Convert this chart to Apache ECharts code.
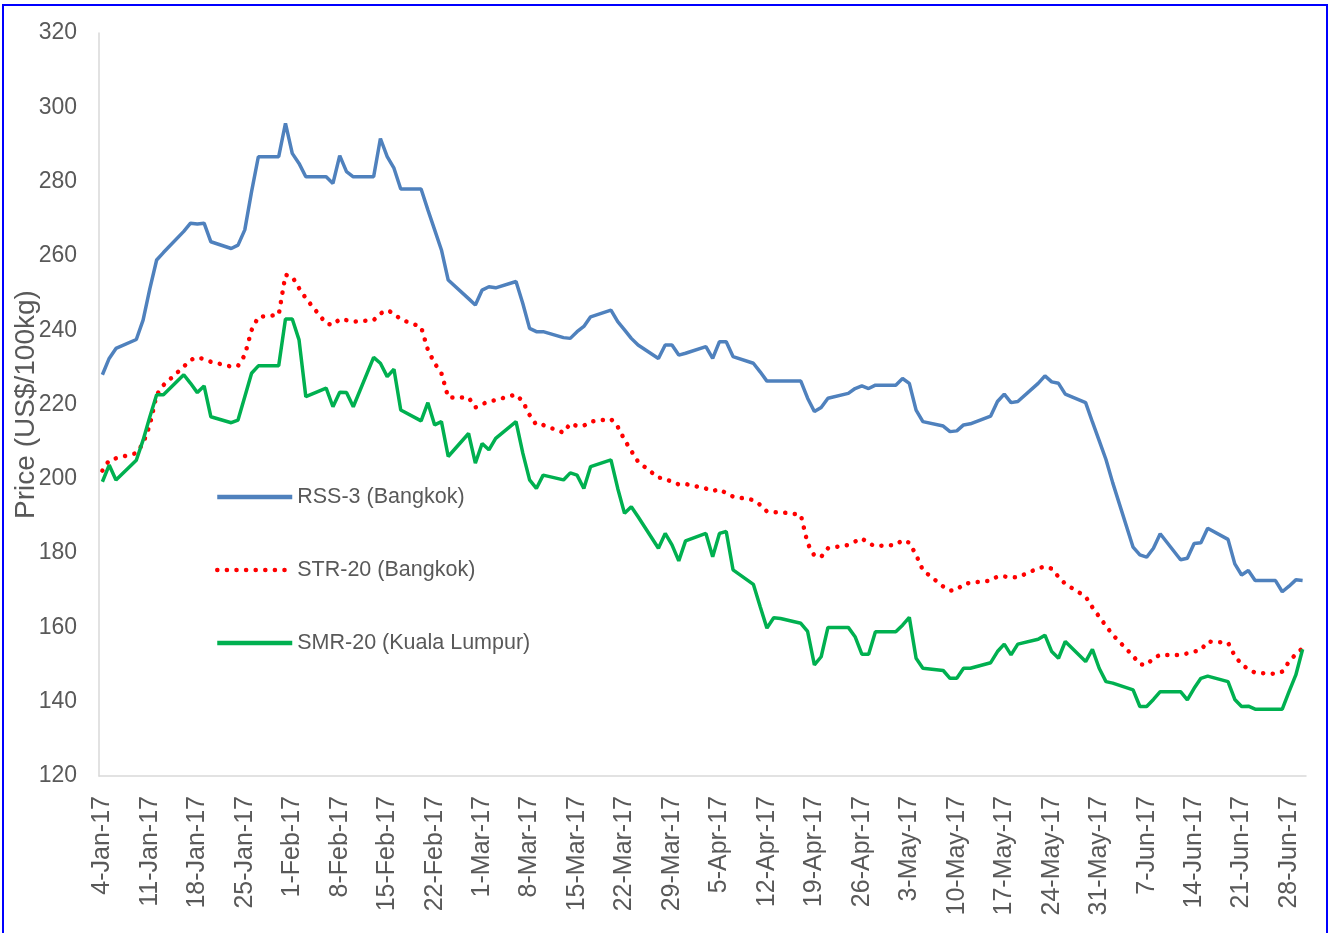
<!DOCTYPE html>
<html>
<head>
<meta charset="utf-8">
<script src="https://cdn.jsdelivr.net/npm/echarts@6/dist/echarts.min.js"></script>
<style>
  html, body { margin: 0; padding: 0; background: #fff; }
  #chart { width: 1333px; height: 933px; }
</style>
</head>
<body>
<div id="chart"></div>
<script>
// calendar span of the x axis (one slot per day, label every 7 days)
const startDate = new Date(2017, 0, 4);
const endDate = new Date(2017, 5, 30);
const monthNames = ['Jan', 'Feb', 'Mar', 'Apr', 'May', 'Jun', 'Jul', 'Aug', 'Sep', 'Oct', 'Nov', 'Dec'];

// prices in US$/100kg, one value per trading day (Mon-Fri), 4-Jan-17 .. 30-Jun-17
const rss3 = [
  228.0, 232.4, 235.1,
  237.5, 242.7, 251.2, 258.9, 260.9,
  266.6, 268.8, 268.6, 268.8, 263.8,
  262.0, 262.9, 267.0, 277.3, 286.7,
  286.7, 295.7, 287.6, 284.9, 281.3,
  281.3, 279.5, 287.0, 282.7, 281.3,
  281.3, 291.6, 286.7, 283.6, 278.0,
  278.0, 272.4, 267.0, 261.6, 253.5,
  248.5, 246.8, 250.8, 251.7, 251.4,
  253.1, 247.2, 240.5, 239.6, 239.6,
  238.0, 237.8, 239.6, 241.0, 243.6,
  245.4, 242.3, 240.1, 237.8, 236.0,
  232.4, 236.0, 236.0, 233.3, 233.8,
  235.6, 232.4, 236.9, 236.9, 232.9,
  231.1, 228.8, 226.3, 226.3, 226.3,
  226.3, 221.7, 218.1, 219.2, 221.7,
  223.0, 224.3, 225.0, 224.3, 225.2,
  225.2, 227.0, 225.7, 218.5, 215.4,
  214.2, 212.7, 212.9, 214.5, 214.8,
  216.9, 220.8, 222.8, 220.5, 220.8,
  225.7, 227.7, 226.1, 225.7, 222.8,
  220.5, 215.3, 210.3, 205.2, 198.9,
  181.6, 179.5, 178.9, 181.3, 185.2,
  178.2, 178.6, 182.6, 182.8, 186.7,
  183.7, 177.1, 174.1, 175.3, 172.6,
  172.6, 169.6, 171.1, 172.8, 172.6
];

const str20 = [
  202.2, 205.0, 205.5,
  206.9, 209.5, 214.5, 222.6, 225.2,
  230.2, 232.0, 232.7, 232.2, 231.5,
  230.2, 230.4, 233.3, 240.0, 243.6,
  244.1, 254.9, 254.4, 251.3, 248.6,
  241.8, 241.4, 243.0, 242.7, 242.3,
  242.7, 244.5, 245.4, 244.5, 242.9,
  240.9, 234.7, 231.1, 228.4, 221.9,
  221.9, 219.2, 220.1, 220.8, 221.2,
  222.7, 220.8, 217.2, 214.5, 214.5,
  212.4, 214.9, 214.2, 214.3, 215.4,
  216.1, 214.0, 210.5, 207.5, 204.6,
  200.3, 200.1, 199.1, 198.5, 198.6,
  197.4, 196.7, 197.2, 196.1, 195.2,
  194.3, 193.0, 191.2, 191.0, 191.0,
  190.3, 182.6, 179.3, 179.0, 181.3,
  182.2, 183.1, 184.0, 182.6, 181.9,
  182.2, 183.5, 182.8, 179.5, 175.4,
  171.0, 169.9, 170.1, 171.7, 172.0,
  172.6, 173.7, 173.7, 173.5, 173.5,
  175.9, 176.4, 175.8, 173.6, 171.7,
  168.3, 165.4, 162.9, 160.4, 158.0,
  152.3, 150.1, 149.9, 151.7, 152.6,
  152.6, 153.0, 153.5, 153.9, 156.2,
  155.9, 152.3, 150.1, 148.7, 147.8,
  147.5, 148.1, 150.8, 152.8, 154.4
];

const smr20 = [
  199.2, 203.7, 199.7,
  205.0, 210.4, 216.7, 222.6, 222.6,
  228.0, 225.7, 223.2, 225.0, 216.7,
  215.1, 215.8, 222.1, 228.4, 230.4,
  230.4, 243.0, 243.0, 237.4, 222.1,
  224.4, 219.4, 223.3, 223.2, 219.4,
  232.7, 231.1, 227.5, 229.5, 218.5,
  215.6, 220.5, 214.5, 215.4, 206.0,
  212.2, 204.2, 209.5, 207.8, 210.9,
  215.4, 206.9, 199.7, 197.4, 201.0,
  199.7, 201.6, 201.0, 197.4, 203.3,
  205.1, 197.4, 190.7, 192.5, 189.8,
  181.3, 185.3, 182.2, 177.9, 183.3,
  185.3, 179.0, 185.3, 185.8, 175.5,
  171.6, 165.6, 159.8, 162.6, 162.4,
  161.1, 158.9, 149.9, 152.1, 160.0,
  160.0, 157.5, 152.8, 152.8, 158.8,
  158.8, 160.6, 162.7, 151.7, 149.0,
  148.4, 146.3, 146.3, 149.0, 149.0,
  150.5, 153.5, 155.5, 152.6, 155.5,
  156.8, 157.9, 153.5, 151.7, 156.2,
  150.8, 154.1, 149.0, 145.4, 145.0,
  143.2, 138.7, 138.7, 140.6, 142.7,
  142.7, 140.5, 143.6, 146.3, 146.9,
  145.4, 140.6, 138.7, 138.8, 138.0,
  138.0, 138.0, 142.7, 147.2, 154.1
];

const seriesNames = ['RSS-3 (Bangkok)', 'STR-20 (Bangkok)', 'SMR-20 (Kuala Lumpur)'];
const textColor = '#595959';

function fmt(d) {
  return d.getDate() + '-' + monthNames[d.getMonth()] + '-' + String(d.getFullYear()).slice(2);
}

// every calendar day is a category; trading days are the weekdays
const categories = [];
const tradeDays = [];
for (let d = new Date(startDate); d <= endDate; d.setDate(d.getDate() + 1)) {
  categories.push(fmt(d));
  if (d.getDay() !== 0 && d.getDay() !== 6) tradeDays.push(fmt(d));
}

function pairs(values) {
  return tradeDays.map((day, i) => [day, values[i]]);
}

const myChart = echarts.init(document.getElementById('chart'));

const option = {
  animation: false,
  textStyle: { fontFamily: 'Liberation Sans' },
  grid: { left: 99, right: 27, top: 33, bottom: 157, outerBoundsMode: 'none' },
  graphic: [{
    type: 'rect',
    shape: { x: 3, y: 5, width: 1324, height: 940 },
    style: { fill: 'none', stroke: '#0000ff', lineWidth: 2 },
    silent: true
  }],
  legend: {
    orient: 'vertical',
    left: 210,
    top: 481,
    itemWidth: 75,
    itemHeight: 14,
    itemGap: 51,
    data: seriesNames,
    itemStyle: { opacity: 0 },
    lineStyle: { width: 4.5 },
    textStyle: {
      color: textColor,
      fontSize: 21.5,
      fontFamily: 'Liberation Sans'
    }
  },
  xAxis: {
    type: 'category',
    data: categories,
    boundaryGap: true,
    axisLine: { lineStyle: { color: '#d9d9d9', width: 1.5 } },
    axisTick: { show: false },
    axisLabel: {
      interval: 6,
      rotate: 90,
      margin: 20,
      color: textColor,
      fontSize: 25
    },
    splitLine: { show: false }
  },
  yAxis: {
    type: 'value',
    min: 120,
    max: 320,
    interval: 20,
    name: 'Price (US$/100kg)',
    nameLocation: 'middle',
    nameGap: 59,
    nameMoveOverlap: false,
    nameTextStyle: { color: textColor, fontSize: 28 },
    axisLine: { show: true, lineStyle: { color: '#d9d9d9', width: 1.5 } },
    axisTick: { show: false },
    axisLabel: { margin: 22, color: textColor, fontSize: 23 },
    splitLine: { show: false }
  },
  series: [
    {
      name: seriesNames[0],
      type: 'line',
      data: pairs(rss3),
      symbol: 'none',
      lineStyle: { color: '#4f81bd', width: 3.5 },
      itemStyle: { color: '#4f81bd' }
    },
    {
      name: seriesNames[1],
      type: 'line',
      data: pairs(str20),
      symbol: 'none',
      lineStyle: { color: '#ff0000', width: 4.5, type: [0.1, 9.5], cap: 'round' },
      itemStyle: { color: '#ff0000' }
    },
    {
      name: seriesNames[2],
      type: 'line',
      data: pairs(smr20),
      symbol: 'none',
      lineStyle: { color: '#00b050', width: 3.5 },
      itemStyle: { color: '#00b050' }
    }
  ]
};

myChart.setOption(option);
</script>
</body>
</html>
